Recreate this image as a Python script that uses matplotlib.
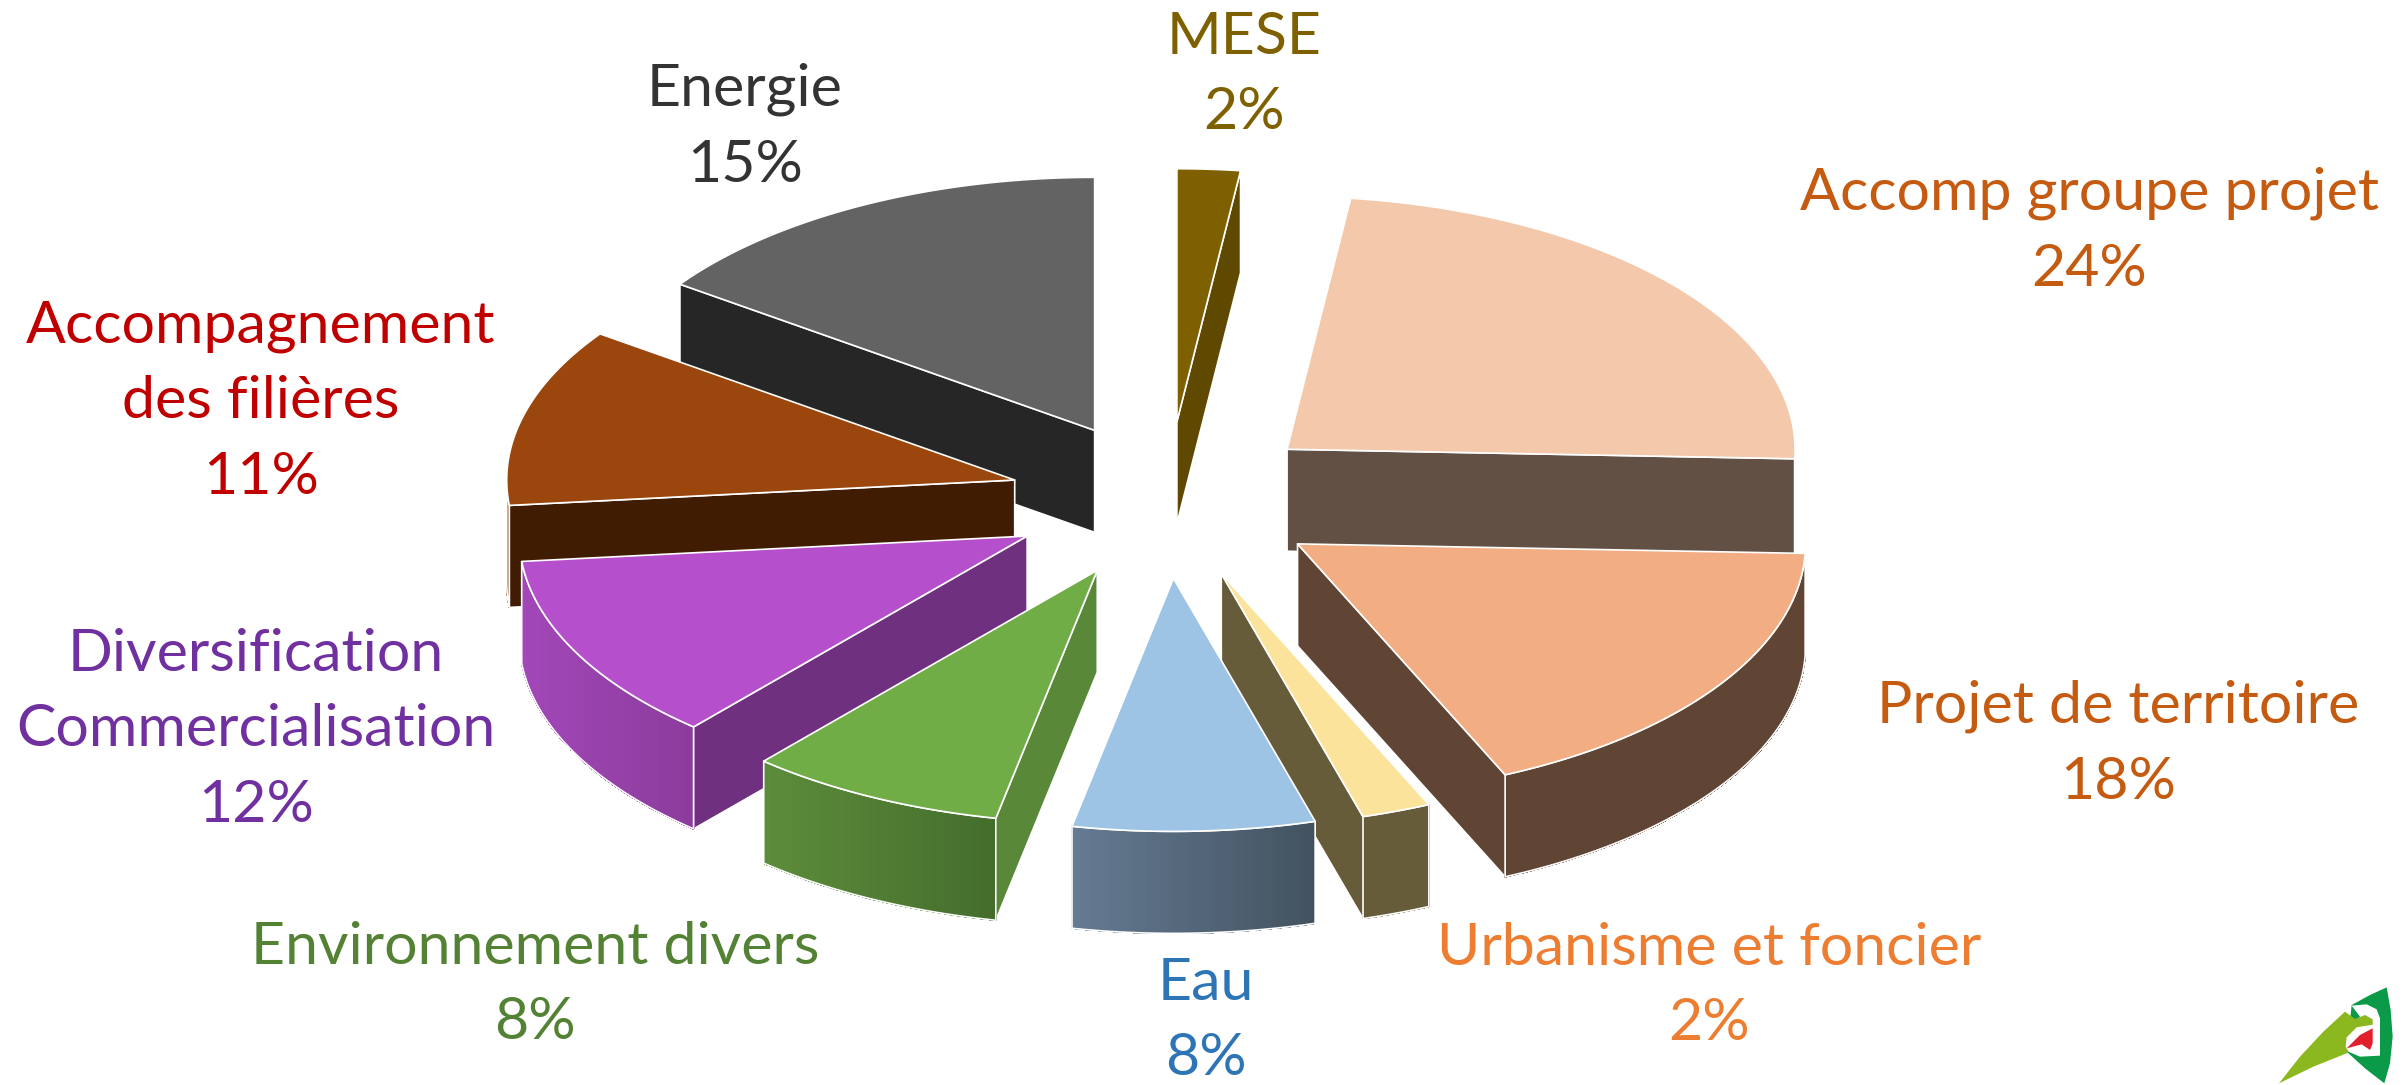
#!/usr/bin/env python3
"""Exploded 3D pie chart of project themes, drawn by hand with polygons."""

import numpy as np
import matplotlib
matplotlib.use('Agg')
import matplotlib.pyplot as plt
from matplotlib.colors import to_rgb
from matplotlib.patches import Polygon

# Data, clockwise from the top of the pie
categories = ['MESE', 'Accomp groupe projet', 'Projet de territoire',
              'Urbanisme et foncier', 'Eau', 'Environnement divers',
              'Diversification\nCommercialisation',
              'Accompagnement\ndes filières', 'Energie']
values = [2.0, 23.6, 17.7, 2.2, 7.7, 8.2, 12.0, 11.4, 15.2]

# Colours
top_colors = ['#7f6000', '#f4c9ab', '#f2ae82', '#fce39b', '#9dc3e5',
              '#70ad47', '#b54fcc', '#9a460c', '#636363']
face_colors = ['#5f4800', '#635045', '#604535', '#675c3a', '#43545f',
               '#598839', '#703080', '#401c03', '#262626']
rim_left = ['#5f4800', '#635045', '#604535', '#675c3a', '#657b93',
            '#5c8c3b', '#a247b8', '#8a4a1a', '#262626']
rim_right = ['#5f4800', '#635045', '#604535', '#675c3a', '#42525f',
             '#446d2c', '#8a3c9c', '#8a4a1a', '#262626']
text_colors = ['#7f6000', '#c55a11', '#c55a11', '#ed7d31', '#2e75b6',
               '#548235', '#7030a0', '#c00000', '#333333']

# Layout in pixels of the 2405x1085 picture
label_pos = [(1244, 75), (2089, 231), (2118, 744), (1709, 986), (1206, 1021),
             (535, 985), (256, 730), (261, 402), (745, 127)]
cx, cy = 1167, 500
rx, ry = 508, 253
depth = 102
explode = 0.31


def project(apex, theta, radius=1.0):
    return (apex[0] + radius * rx * np.sin(theta),
            apex[1] - radius * ry * np.cos(theta))


def draw_face(ax, apex, theta, color):
    x, y = project(apex, theta)
    ax.add_patch(Polygon([apex, (x, y), (x, y + depth), (apex[0], apex[1] + depth)],
                         closed=True, facecolor=color, edgecolor='white',
                         linewidth=1.2, joinstyle='round'))


def draw_rim(ax, apex, start, end, left, right):
    a = max(start, np.pi / 2)
    b = min(end, 3 * np.pi / 2)
    if b <= a:
        return
    arc = np.linspace(a, b, 60)
    xs, ys = project(apex, arc)
    span = xs.max() - xs.min()
    c_left, c_right = np.array(to_rgb(left)), np.array(to_rgb(right))
    for i in range(len(arc) - 1):
        frac = ((xs[i] + xs[i + 1]) / 2 - xs.min()) / span
        col = c_left + (c_right - c_left) * frac
        ax.fill([xs[i], xs[i + 1], xs[i + 1], xs[i]],
                [ys[i], ys[i + 1], ys[i + 1] + depth, ys[i] + depth],
                facecolor=col, edgecolor=col, linewidth=0.6, antialiased=False)
    outline = list(zip(xs, ys)) + list(zip(xs[::-1], ys[::-1] + depth))
    ax.add_patch(Polygon(outline, closed=True, facecolor='none',
                         edgecolor='white', linewidth=1.2))


def draw_logo(ax):
    def pts(zoomed):
        return [(2200 + x / 3, 950 + y / 3) for x, y in zoomed]

    dark = [(455, 165), (510, 135), (560, 112), (572, 180), (578, 260),
            (570, 340), (553, 400), (495, 355), (440, 305)]
    white = [(455, 167), (500, 163), (530, 178), (540, 205), (540, 317),
             (480, 320), (445, 305), (430, 275), (445, 235), (480, 200)]
    light = [(237, 400), (300, 320), (370, 245), (435, 185), (465, 207),
             (495, 195), (518, 208), (518, 224), (470, 232), (440, 262),
             (437, 290), (445, 308), (340, 350)]
    red = [(440, 295), (480, 255), (518, 235), (518, 280), (510, 300),
           (485, 283)]
    for shape, color in ((dark, '#0b9a48'), (white, 'white'),
                         (light, '#8cb81f'), (red, '#e2202c')):
        ax.add_patch(Polygon(pts(shape), closed=True, facecolor=color,
                             edgecolor='none'))


def main():
    fig = plt.figure(figsize=(24.05, 10.85), dpi=100, facecolor='white')
    ax = fig.add_axes([0, 0, 1, 1])
    ax.set_xlim(0, 2405)
    ax.set_ylim(1085, 0)
    ax.axis('off')

    shares = np.array(values) / np.sum(values) * 2 * np.pi
    ends = np.cumsum(shares)
    starts = ends - shares
    mids = (starts + ends) / 2
    apexes = [project((cx, cy), m, explode) for m in mids]

    # back wedges first
    for i in np.argsort([a[1] for a in apexes]):
        apex, start, end = apexes[i], starts[i], ends[i]
        if np.sin(end) > 0:
            draw_face(ax, apex, end, face_colors[i])
        if np.sin(start) < 0:
            draw_face(ax, apex, start, face_colors[i])
        draw_rim(ax, apex, start, end, rim_left[i], rim_right[i])

        arc = np.linspace(start, end, 80)
        xs, ys = project(apex, arc)
        ax.add_patch(Polygon([apex] + list(zip(xs, ys)), closed=True,
                             facecolor=top_colors[i], edgecolor='white',
                             linewidth=1.2, joinstyle='round'))

    for name, val, pos, col in zip(categories, values, label_pos, text_colors):
        ax.text(pos[0], pos[1], f'{name}\n{val:.0f}%', ha='center', va='center',
                color=col, fontsize=42.5, family='Lato', linespacing=1.53)

    draw_logo(ax)
    fig.savefig('out.png', dpi=100, facecolor='white')


if __name__ == '__main__':
    main()
